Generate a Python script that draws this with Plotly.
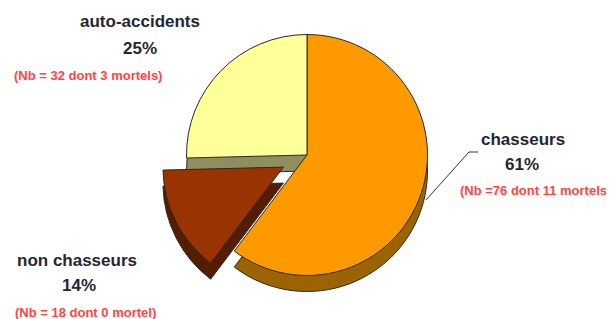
import plotly.graph_objects as go

# the page body adds an 8px margin, so the figure is drawn 8px in from the window edge
PAGE_MARGIN = 8
WIN_W, WIN_H = 614, 319
W, H = WIN_W - PAGE_MARGIN, WIN_H - PAGE_MARGIN

# ---- data ----
categories = ["chasseurs", "non chasseurs", "auto-accidents"]
counts = [76, 18, 32]
percent_labels = ["61%", "14%", "25%"]
details = ["(Nb =76 dont 11 mortels)", "(Nb = 18 dont 0 mortel)", "(Nb = 32 dont 3 mortels)"]

top_colors = ["#FF9900", "#993300", "#FFFF99"]
side_colors = ["#9C6400", "#561C00", "#8E8E5E"]
pulls = [0, 0.22, 0]

# pie geometry (window pixels)
cx, cy = 307, 155
half = 147
depth = 16


def clamp(v):
    return min(1.0, max(0.0, v))


def fx(px):
    return (px - PAGE_MARGIN) / W


def fy(py):
    return 1 - (py - PAGE_MARGIN) / H


def dom(cx_px, cy_px):
    return dict(
        x=[clamp(fx(cx_px - half)), clamp(fx(cx_px + half))],
        y=[clamp(fy(cy_px + half)), clamp(fy(cy_px - half))],
    )


fig = go.Figure()
# extruded side (shadow pie)
fig.add_trace(go.Pie(
    labels=categories, values=counts, sort=False, direction="clockwise", rotation=0,
    pull=pulls, marker=dict(colors=side_colors, line=dict(color="#2a2a2a", width=1)),
    textinfo="none", hoverinfo="skip", showlegend=False,
    domain=dom(cx, cy + depth),
))
# top face
fig.add_trace(go.Pie(
    labels=categories, values=counts, sort=False, direction="clockwise", rotation=0,
    pull=pulls, marker=dict(colors=top_colors, line=dict(color="#2a2a2a", width=1)),
    textinfo="none", hoverinfo="label+percent", showlegend=False,
    domain=dom(cx, cy),
))

# label positions (window pixels): name, percent, detail
label_pos = {
    "chasseurs": [(523, 139), (522, 164), (535, 190)],
    "non chasseurs": [(77, 260), (79, 285), (85, 312)],
    "auto-accidents": [(140, 22), (140, 48), (88, 75)],
}

ann = []
for cat, pct, det in zip(categories, percent_labels, details):
    (nx, ny), (px, py), (dx, dy) = label_pos[cat]
    ann.append(dict(text="<b>%s</b>" % cat, x=fx(nx), y=fy(ny), xref="paper", yref="paper",
                    xanchor="center", yanchor="middle", showarrow=False,
                    font=dict(family="Liberation Sans, Arial", size=17, color="#262633")))
    ann.append(dict(text="<b>%s</b>" % pct, x=fx(px), y=fy(py), xref="paper", yref="paper",
                    xanchor="center", yanchor="middle", showarrow=False,
                    font=dict(family="Liberation Sans, Arial", size=17, color="#262633")))
    ann.append(dict(text="<b>%s</b>" % det, x=fx(dx), y=fy(dy), xref="paper", yref="paper",
                    xanchor="center", yanchor="middle", showarrow=False,
                    font=dict(family="Liberation Sans, Arial", size=13, color="#FF4545")))

fig.update_layout(
    width=W, height=H,
    margin=dict(l=0, r=0, t=0, b=0),
    paper_bgcolor="white", plot_bgcolor="white",
    annotations=ann,
    shapes=[dict(type="path", xref="paper", yref="paper",
                 path="M %f %f L %f %f L %f %f" % (fx(426), fy(200), fx(469), fy(152), fx(478), fy(152)),
                 line=dict(color="#333333", width=1))],
)

fig.write_html("out.html")
